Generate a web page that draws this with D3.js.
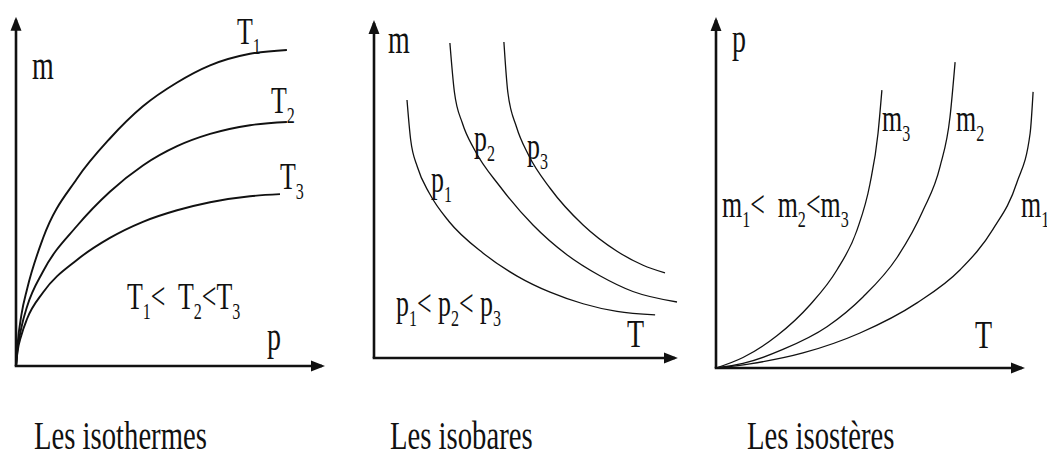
<!DOCTYPE html>
<html>
<head>
<meta charset="utf-8">
<script src="https://cdn.jsdelivr.net/npm/d3@7"></script>
<style>
  html, body { margin: 0; padding: 0; background: #fff; }
  svg { display: block; }
  text { font-family: "Liberation Serif", "DejaVu Serif", serif; fill: #111; }
</style>
</head>
<body>
<div id="chart"></div>
<script>
// curve values (units 0..100 on each axis)
const isothermT1 = [[0,0],[0.5,6],[1.8,14.6],[3.7,22],[9,36.5],[20.3,53.5],[31.3,65],[42.3,74.2],[53.7,81],[64.7,85.9],[78,89.2],[90.3,90.3]];
const isothermT2 = [[0,0],[0.5,4.6],[1.8,11],[3.7,17],[9,27],[20.3,40],[31.3,49.8],[42.3,57.3],[53.7,62.8],[64.7,66.3],[78,68.8],[90.3,69.7]];
const isothermT3 = [[0,0],[0.5,4],[1.8,8.8],[3.7,13.5],[9,21],[20.3,30.3],[31.3,36.6],[42.3,41.2],[53.7,44.5],[64.7,46.8],[78,48.5],[88,49.1]];

const isobarP1 = [[11,73.7],[12.2,62.5],[14.5,54.5],[18.5,47],[25,39],[36.3,30],[47.7,23.4],[58.7,18.8],[69.7,15.5],[81,13.3],[93.7,12.3]];
const isobarP2 = [[25.3,90],[26.8,76],[29.5,67],[33.5,59.5],[42,49],[53,38],[64.3,29.5],[75.3,23.5],[86.3,19],[101,16]];
const isobarP3 = [[43.3,90.3],[44.6,76],[47.5,66],[51.5,58],[58.7,48.5],[69.7,38],[81,30.5],[89.7,26.5],[97,24.3]];

const isostereM3 = [[0,0],[9,3],[20.3,9.2],[31.3,18],[40.3,28],[47,39.4],[51.3,52.5],[54,67],[55.3,79.4]];
const isostereM2 = [[0,0],[9,1.3],[22.3,5.3],[37,11.8],[49,20.3],[60.3,31.5],[69,45],[74.7,57.6],[78,71.7],[79.7,87.4]];
const isostereM1 = [[0,0],[11.3,1.2],[29,4.3],[48,10],[67,18.6],[81.3,28],[92.3,39.6],[100.3,53],[104.7,67],[105.7,78.9]];

// texts ("_" marks the next character as subscript)
const panelTitles = ["Les isothermes", "Les isobares", "Les isostères"];
const axisLabels = [["m", "p"], ["m", "T"], ["p", "T"]];
const curveLabels = [["T_1", "T_2", "T_3"], ["p_1", "p_2", "p_3"], ["m_3", "m_2", "m_1"]];
const orderLabels = ["T_1<\u00a0 T_2<T_3", "p_1< p_2< p_3", "m_1<\u00a0 m_2<m_3"];

const kWidth = 1047;
const kHeight = 454;
const kSqueeze = 0.7;

const svg = d3.select("#chart")
  .append("svg")
  .attr("width", kWidth)
  .attr("height", kHeight);

svg.append("defs")
  .append("marker")
  .attr("id", "arrow")
  .attr("viewBox", "0 -6 14 12")
  .attr("refX", 11)
  .attr("refY", 0)
  .attr("markerUnits", "userSpaceOnUse")
  .attr("markerWidth", 14)
  .attr("markerHeight", 12)
  .attr("orient", "auto")
  .append("path")
  .attr("d", "M0,-5.5L14,0L0,5.5Z")
  .attr("fill", "#111");

// split "T_1< T_2" into runs of normal / subscript text
function splitRuns(str)
{
  const runs = [];
  for (let i = 0; i < str.length; i++) {
    if (str[i] === "_") {
      runs.push({ sub: true, s: str[i + 1] });
      i++;
    } else if (runs.length && !runs[runs.length - 1].sub) {
      runs[runs.length - 1].s += str[i];
    } else {
      runs.push({ sub: false, s: str[i] });
    }
  }
  return runs;
}

// the source lettering is narrow, so each label is squeezed horizontally
function addText(parent, str, x, y, size)
{
  const g = parent.append("g")
    .attr("transform", `translate(${x},${y}) scale(${kSqueeze},1)`);
  const t = g.append("text").attr("font-size", size);
  const drop = size * 0.26;
  let shift = 0;
  splitRuns(str).forEach(r => {
    if (r.sub) {
      t.append("tspan")
        .attr("font-size", size * 0.62)
        .attr("dy", drop - shift)
        .text(r.s);
      shift = drop;
    } else {
      t.append("tspan")
        .attr("dy", -shift)
        .text(r.s);
      shift = 0;
    }
  });
}

// layout of each panel: origin in pixels, arrow tips in data units,
// label anchors in pixels
const panels = [
  {
    ox: 16, oy: 366, xTip: 102, yTip: 98.9,
    curves: [isothermT1, isothermT2, isothermT3], width: 1.9,
    axisPos: [[32, 79], [267, 350]],
    curvePos: [[237, 44], [271, 113], [280, 189]],
    orderPos: [127, 309],
    titlePos: [34, 449]
  },
  {
    ox: 374, oy: 358, xTip: 100.3, yTip: 95.7,
    curves: [isobarP1, isobarP2, isobarP3], width: 1.3,
    axisPos: [[388, 53], [627, 347]],
    curvePos: [[431, 192], [474, 151], [527, 159]],
    orderPos: [396, 316],
    titlePos: [390, 449]
  },
  {
    ox: 716, oy: 368, xTip: 102, yTip: 99.4,
    curves: [isostereM3, isostereM2, isostereM1], width: 1.3,
    axisPos: [[732, 52], [975, 348]],
    curvePos: [[882, 131], [956, 131], [1021, 217]],
    orderPos: [722, 217],
    titlePos: [747, 449]
  }
];

panels.forEach((p, i) => {
  const x = d3.scaleLinear().domain([0, 100]).range([p.ox, p.ox + 300]);
  const y = d3.scaleLinear().domain([0, 100]).range([p.oy, p.oy - 350]);
  const g = svg.append("g");

  // axes with arrow heads
  g.append("line")
    .attr("x1", x(0)).attr("y1", y(0))
    .attr("x2", x(0)).attr("y2", y(p.yTip))
    .attr("stroke", "#111").attr("stroke-width", 2.6)
    .attr("marker-end", "url(#arrow)");
  g.append("line")
    .attr("x1", x(0) - 1.3).attr("y1", y(0))
    .attr("x2", x(p.xTip)).attr("y2", y(0))
    .attr("stroke", "#111").attr("stroke-width", 2.6)
    .attr("marker-end", "url(#arrow)");

  const line = d3.line()
    .x(d => x(d[0]))
    .y(d => y(d[1]))
    .curve(d3.curveMonotoneX);

  g.selectAll("path.curve")
    .data(p.curves)
    .enter()
    .append("path")
    .attr("class", "curve")
    .attr("d", line)
    .attr("fill", "none")
    .attr("stroke", "#111")
    .attr("stroke-width", p.width);

  addText(g, axisLabels[i][0], p.axisPos[0][0], p.axisPos[0][1], 40);
  addText(g, axisLabels[i][1], p.axisPos[1][0], p.axisPos[1][1], 40);
  curveLabels[i].forEach((lab, k) => {
    addText(g, lab, p.curvePos[k][0], p.curvePos[k][1], 37);
  });
  addText(g, orderLabels[i], p.orderPos[0], p.orderPos[1], 37);
  addText(g, panelTitles[i], p.titlePos[0], p.titlePos[1], 41);
});
</script>
</body>
</html>
